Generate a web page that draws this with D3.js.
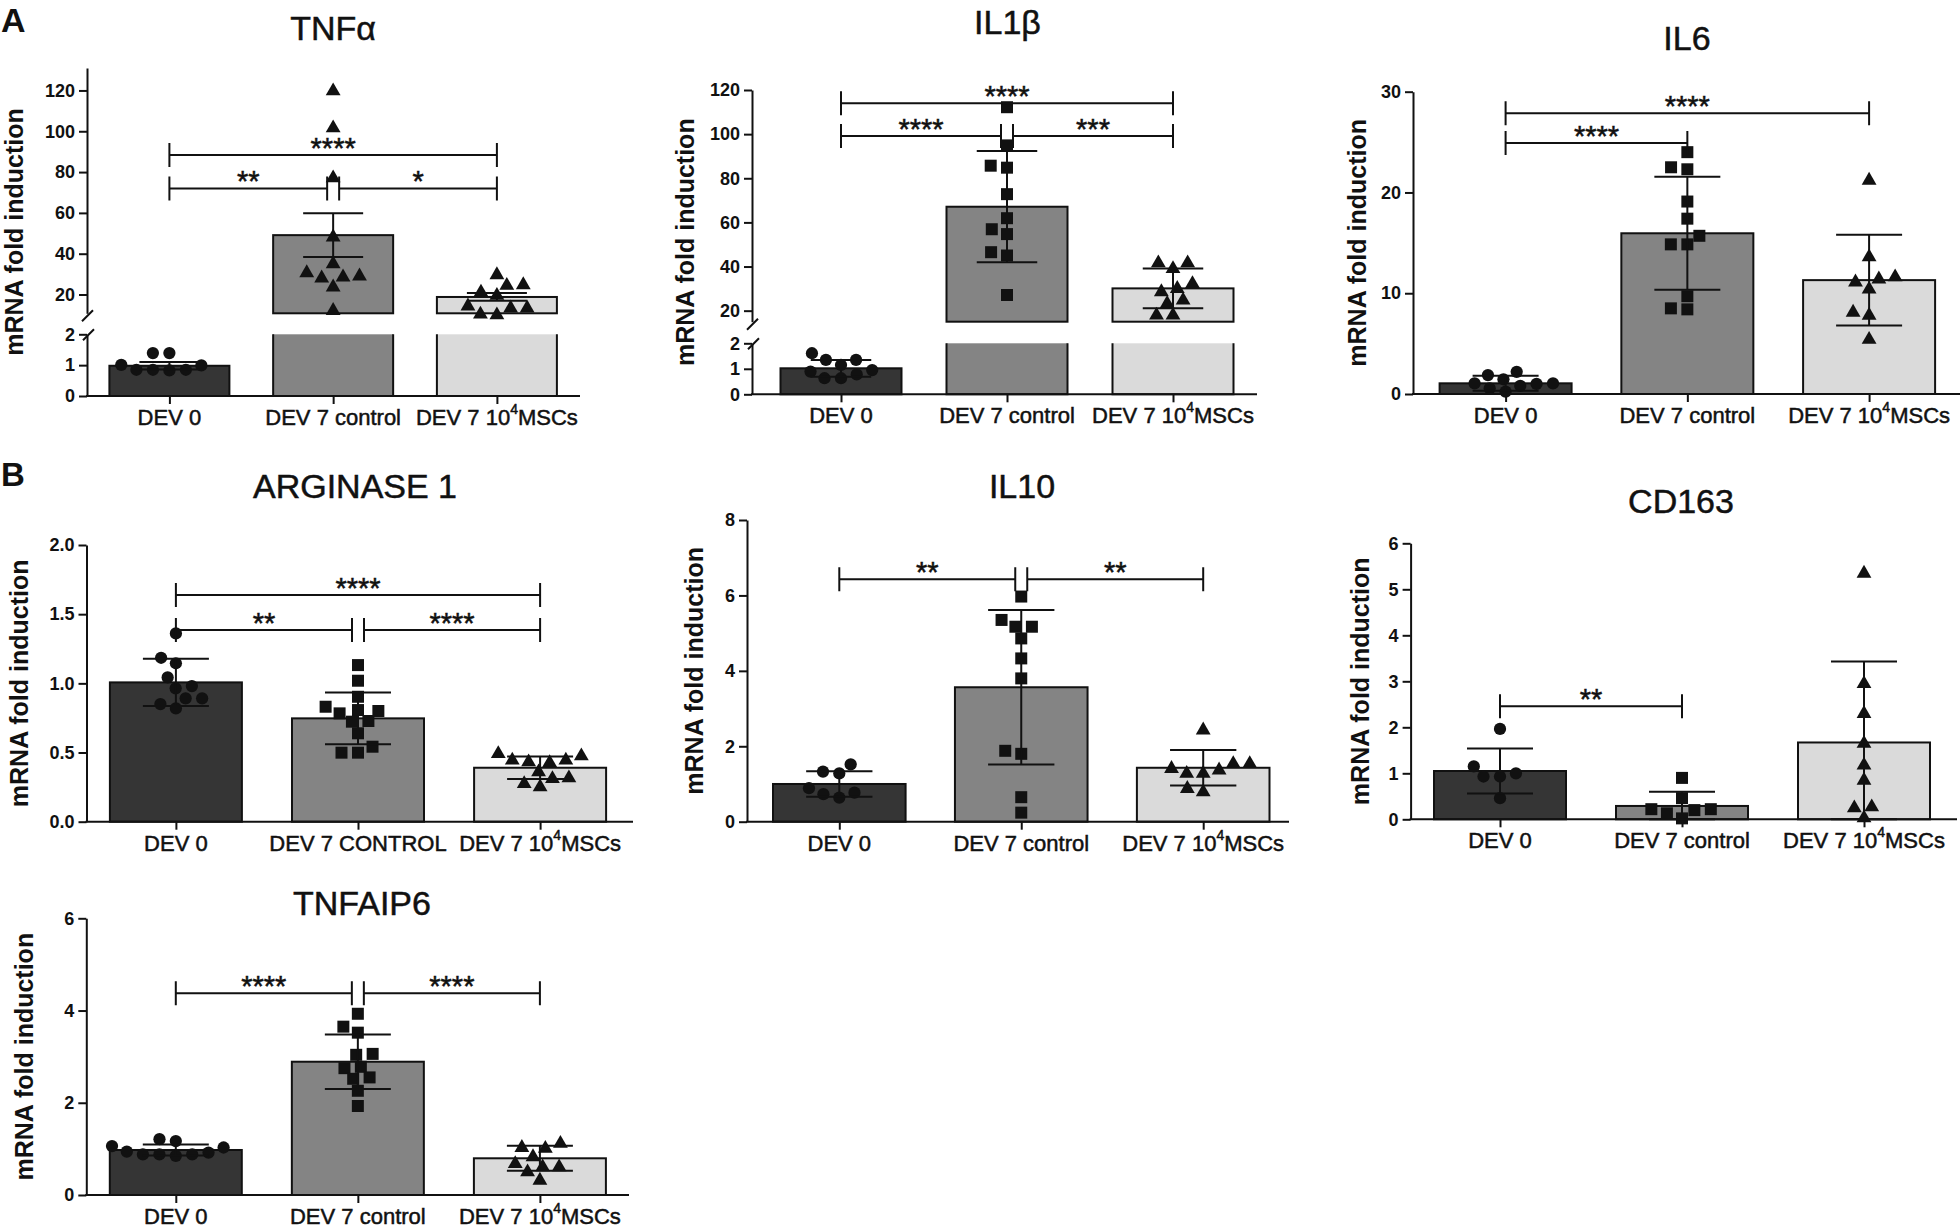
<!DOCTYPE html>
<html>
<head>
<meta charset="utf-8">
<script src="https://cdn.jsdelivr.net/npm/d3@7"></script>
<style>
  body { margin: 0; background: #fff; }
  svg { display: block; font-family: "Liberation Sans", Arial, sans-serif; }
</style>
</head>
<body>
<svg id="fig" width="1960" height="1228"></svg>
<script>
// group labels (⁴ is drawn as a superscript)
const groups = ["DEV 0", "DEV 7 control", "DEV 7 10⁴MSCs"];
const groupsCaps = ["DEV 0", "DEV 7 CONTROL", "DEV 7 10⁴MSCs"];

// TNFα
const tnfMean = [0.98, 49.1, 18.8];
const tnfErr = [0.12, 10.7, 1.9];
const tnfPts = [
  [0.99, 0.85, 1.39, 0.83, 0.85, 1.39, 0.85, 1.01],
  [120.7, 102.6, 78.1, 49.1, 36, 30, 29, 29.5, 31.6, 24.6, 13.1],
  [25.7, 30.6, 25.4, 22.1, 20.5, 15.3, 14.3, 10.9, 11.3, 14.3]
];
const tnfTicksLo = [0, 1, 2];
const tnfTicksHi = [20, 40, 60, 80, 100, 120];
const tnfSig = [[0, 2, 88.4, "****"], [0, 1, 72, "**"], [1, 2, 72, "*"]];

// IL1β
const il1Mean = [1.02, 67.1, 30.1];
const il1Err = [0.33, 25.2, 9.0];
const il1Pts = [
  [0.95, 0.78, 1.35, 0.63, 1.35, 0.63, 1.61, 0.89, 1.15],
  [112.2, 94.9, 84.8, 85.7, 72.8, 61.9, 56.9, 54.7, 46.5, 45, 27.1],
  [42.5, 39.9, 42.5, 30.9, 29.4, 33.1, 24.1, 25.6, 18.8, 18.8]
];
const il1TicksLo = [0, 1, 2];
const il1TicksHi = [20, 40, 60, 80, 100, 120];
const il1Sig = [[0, 2, 114, "****"], [0, 1, 99.2, "****"], [1, 2, 99.2, "***"]];

// IL6
const il6Mean = [1.06, 15.95, 11.3];
const il6Err = [0.74, 5.6, 4.5];
const il6Pts = [
  [1.46, 1.0, 0.8, 0.23, 2.2, 0.56, 1.06, 1.06, 1.88],
  [24.0, 22.3, 22.5, 19.1, 17.4, 15.7, 14.85, 14.85, 9.7, 8.4, 8.5],
  [21.4, 13.8, 11.6, 11.3, 11.8, 10.6, 8.3, 8.0, 5.6]
];
const il6Ticks = [0, 10, 20, 30];
const il6Sig = [[0, 2, 27.85, "****"], [0, 1, 24.9, "****"]];

// ARGINASE 1
const argMean = [1.007, 0.747, 0.39];
const argErr = [0.171, 0.187, 0.082];
const argPts = [
  [1.361, 1.145, 1.185, 0.98, 0.964, 1.043, 0.892, 0.892, 0.819, 0.85],
  [1.132, 1.019, 0.903, 0.831, 0.807, 0.783, 0.8, 0.723, 0.728, 0.639, 0.542, 0.499, 0.499],
  [0.506, 0.458, 0.446, 0.441, 0.458, 0.489, 0.374, 0.325, 0.33, 0.265, 0.289]
];
const argTicks = [0, 0.5, 1, 1.5, 2];
const argSig = [[0, 2, 1.638, "****"], [0, 1, 1.385, "**"], [1, 2, 1.385, "****"]];

// IL10
const il10Mean = [1.0, 3.565, 1.43];
const il10Err = [0.34, 2.05, 0.47];
const il10Pts = [
  [1.33, 1.28, 1.52, 0.77, 0.64, 0.73, 0.89],
  [5.97, 5.35, 5.17, 5.17, 4.86, 4.33, 3.8, 1.88, 1.8, 0.65, 0.24],
  [2.48, 1.59, 1.46, 1.33, 1.33, 1.42, 1.59, 0.84, 0.93]
];
const il10Ticks = [0, 2, 4, 6, 8];
const il10Sig = [[0, 1, 6.43, "**"], [1, 2, 6.43, "**"]];

// CD163
const cdMean = [1.05, 0.29, 1.67];
const cdErr = [0.49, 0.31, 1.76];
const cdPts = [
  [1.965, 1.15, 0.93, 0.93, 1.0, 0.46],
  [0.9, 0.46, 0.22, 0.2, 0.13, 0.22, 0.02],
  [5.39, 2.99, 2.34, 1.69, 1.22, 0.89, 0.31, 0.29, 0.07]
];
const cdTicks = [0, 1, 2, 3, 4, 5, 6];
const cdSig = [[0, 1, 2.46, "**"]];

// TNFAIP6
const tsgMean = [0.976, 2.89, 0.796];
const tsgErr = [0.12, 0.59, 0.27];
const tsgPts = [
  [1.17, 1.03, 0.92, 0.88, 0.85, 0.88, 0.88, 0.94, 1.06, 1.21],
  [3.93, 3.65, 3.52, 3.04, 3.06, 2.78, 2.75, 2.55, 2.52, 2.26, 1.93],
  [1.16, 1.07, 1.05, 0.87, 0.72, 0.65, 0.65, 0.54, 0.36]
];
const tsgTicks = [0, 2, 4, 6];
const tsgSig = [[0, 1, 4.375, "****"], [1, 2, 4.375, "****"]];

const fills = ["#353535", "#848484", "#dadada"];
const sym = {
  circle: [d3.symbolCircle, 118],
  square: [d3.symbolSquare, 144],
  triangle: [d3.symbolTriangle, 95]
};
const shapesStd = ["circle", "square", "triangle"];
const shapesTnf = ["circle", "triangle", "triangle"];

const panels = [
  {title: "TNFα", labels: groups, shapes: shapesTnf, mean: tnfMean, err: tnfErr, pts: tnfPts, sig: tnfSig,
   broken: {loMax: 2, loTop: 334.3, hiDomain: [10.8, 131], hiBot: 313.3, ticksLo: tnfTicksLo, ticksHi: tnfTicksHi},
   ax: 87, top: 68, bot: 396, right: 580, c0: 169.4, c2: 496.9, bw: 120, tx: 333, ty: 40, ylab: 23},
  {title: "IL1β", labels: groups, shapes: shapesStd, mean: il1Mean, err: il1Err, pts: il1Pts, sig: il1Sig,
   broken: {loMax: 2, loTop: 343.3, hiDomain: [15, 120], hiBot: 321.7, ticksLo: il1TicksLo, ticksHi: il1TicksHi},
   ax: 752, top: 90, bot: 394.3, right: 1257, c0: 841, c2: 1173, bw: 121, tx: 1007.5, ty: 34, ylab: 694},
  {title: "IL6", labels: groups, shapes: shapesStd, mean: il6Mean, err: il6Err, pts: il6Pts, sig: il6Sig, ticks: il6Ticks, fmt: "d",
   ax: 1413, top: 91.7, bot: 394, right: 1960, c0: 1505.6, c2: 1869.1, bw: 132, tx: 1687, ty: 50, ylab: 1366},
  {title: "ARGINASE 1", labels: groupsCaps, shapes: shapesStd, mean: argMean, err: argErr, pts: argPts, sig: argSig, ticks: argTicks, fmt: ".1f",
   ax: 86.5, top: 545, bot: 821.7, right: 633, c0: 175.9, c2: 540.1, bw: 132, tx: 355, ty: 498, ylab: 28},
  {title: "IL10", labels: groups, shapes: shapesStd, mean: il10Mean, err: il10Err, pts: il10Pts, sig: il10Sig, ticks: il10Ticks, fmt: "d",
   ax: 747, top: 520, bot: 821.7, right: 1289, c0: 839.3, c2: 1203.2, bw: 132.6, tx: 1022, ty: 498, ylab: 703},
  {title: "CD163", labels: groups, shapes: shapesStd, mean: cdMean, err: cdErr, pts: cdPts, sig: cdSig, ticks: cdTicks, fmt: "d",
   ax: 1410.6, top: 543.3, bot: 819.3, right: 1957, c0: 1500, c2: 1864, bw: 132, tx: 1681, ty: 513, ylab: 1369},
  {title: "TNFAIP6", labels: groups, shapes: shapesStd, mean: tsgMean, err: tsgErr, pts: tsgPts, sig: tsgSig, ticks: tsgTicks, fmt: "d",
   ax: 86.3, top: 918.3, bot: 1195, right: 629, c0: 175.8, c2: 539.9, bw: 132, tx: 362, ty: 915, ylab: 33}
];

const svg = d3.select("#fig");
const ink = "#111";

// beeswarm: lowest point first, each at the offset nearest the centre that keeps an elliptical gap
function swarm(ys, wx, hy) {
  const order = d3.range(ys.length).sort((a, b) => ys[b] - ys[a]);
  const placed = [];
  const xs = new Array(ys.length);
  order.forEach(i => {
    const y = ys[i];
    const iv = [];
    placed.forEach(p => {
      const dy = Math.abs(p.y - y) / hy;
      if (dy < 1) {
        const w = wx * Math.sqrt(1 - dy * dy);
        iv.push([p.x - w, p.x + w]);
      }
    });
    const cands = [0];
    iv.forEach(v => cands.push(v[0], v[1]));
    cands.sort((a, b) => Math.abs(a) - Math.abs(b));
    const x = cands.find(c => iv.every(v => c <= v[0] + 1e-6 || c >= v[1] - 1e-6));
    xs[i] = x;
    placed.push({x, y});
  });
  return xs;
}

function styleAxis(g) {
  g.selectAll(".domain").attr("stroke", ink).attr("stroke-width", 2);
  g.selectAll(".tick line").attr("stroke", ink).attr("stroke-width", 2);
  g.selectAll(".tick text").attr("fill", ink).attr("font-size", 18).attr("font-weight", "bold")
    .attr("font-family", "Liberation Sans, Arial, sans-serif");
}

// regular-weight text gets a hair of stroke so it reads like the scanned figure
function heavy(t) {
  return t.attr("fill", ink).attr("stroke", ink).attr("stroke-width", 0.5);
}

function drawPanel(p) {
  const g = svg.append("g");
  const x = d3.scalePoint().domain([0, 1, 2]).range([p.c0, p.c2]);
  let yv, yMin;

  if (p.broken) {
    const b = p.broken;
    const lo = d3.scaleLinear().domain([0, b.loMax]).range([p.bot, b.loTop]);
    const hi = d3.scaleLinear().domain(b.hiDomain).range([b.hiBot, p.top]);
    yv = v => v <= b.loMax ? lo(v) : hi(v);
    yMin = 0;
    g.append("g").attr("transform", `translate(${p.ax},0)`)
      .call(d3.axisLeft(lo).tickValues(b.ticksLo).tickFormat(d3.format("d")).tickSize(8).tickSizeOuter(0).tickPadding(4))
      .call(styleAxis);
    g.append("g").attr("transform", `translate(${p.ax},0)`)
      .call(d3.axisLeft(hi).tickValues(b.ticksHi).tickFormat(d3.format("d")).tickSize(8).tickSizeOuter(0).tickPadding(4))
      .call(styleAxis);
    // break marks
    g.append("path")
      .attr("d", `M${p.ax - 5},${b.hiBot + 8}L${p.ax + 6},${b.hiBot - 3}M${p.ax - 4},${b.loTop + 6}L${p.ax + 7},${b.loTop - 5}`)
      .attr("stroke", ink).attr("stroke-width", 2).attr("fill", "none");

    // bars split across the break
    p.mean.forEach((m, i) => {
      const x0 = x(i) - p.bw / 2, x1 = x(i) + p.bw / 2;
      if (m <= b.loMax) {
        g.append("rect").attr("x", x0).attr("y", lo(m)).attr("width", p.bw).attr("height", lo(0) - lo(m))
          .attr("fill", fills[i]).attr("stroke", ink).attr("stroke-width", 2);
      } else {
        g.append("rect").attr("x", x0).attr("y", lo(b.loMax)).attr("width", p.bw).attr("height", lo(0) - lo(b.loMax))
          .attr("fill", fills[i]);
        g.append("path").attr("d", `M${x0},${lo(b.loMax)}V${lo(0)}H${x1}V${lo(b.loMax)}`)
          .attr("fill", "none").attr("stroke", ink).attr("stroke-width", 2);
        g.append("rect").attr("x", x0).attr("y", hi(m)).attr("width", p.bw).attr("height", hi(b.hiDomain[0]) - hi(m))
          .attr("fill", fills[i]).attr("stroke", ink).attr("stroke-width", 2);
      }
    });
  } else {
    const y = d3.scaleLinear().domain([p.ticks[0], p.ticks[p.ticks.length - 1]]).range([p.bot, p.top]);
    yv = v => y(v);
    yMin = p.ticks[0];
    g.append("g").attr("transform", `translate(${p.ax},0)`)
      .call(d3.axisLeft(y).tickValues(p.ticks).tickFormat(d3.format(p.fmt)).tickSize(8).tickSizeOuter(0).tickPadding(4))
      .call(styleAxis);
    g.selectAll("rect.bar").data(p.mean).join("rect").attr("class", "bar")
      .attr("x", (d, i) => x(i) - p.bw / 2).attr("y", d => y(d))
      .attr("width", p.bw).attr("height", d => y(0) - y(d))
      .attr("fill", (d, i) => fills[i]).attr("stroke", ink).attr("stroke-width", 2);
  }

  // x axis
  g.append("line").attr("x1", p.ax - 1).attr("x2", p.right).attr("y1", p.bot).attr("y2", p.bot)
    .attr("stroke", ink).attr("stroke-width", 2);
  g.append("g").attr("transform", `translate(0,${p.bot})`)
    .call(d3.axisBottom(x).tickSize(8).tickFormat(""))
    .call(a => a.select(".domain").remove())
    .call(styleAxis);
  p.labels.forEach((lab, i) => {
    const t = heavy(g.append("text").attr("x", x(i)).attr("y", p.bot + 29).attr("text-anchor", "middle")
      .attr("font-size", 22));
    const parts = lab.split("⁴");
    t.append("tspan").text(parts[0]);
    if (parts.length > 1) {
      t.append("tspan").attr("font-size", 14).attr("dy", -11).text("4");
      t.append("tspan").attr("dy", 11).text(parts[1]);
    }
  });

  // points
  p.pts.forEach((vals, i) => {
    const ys = vals.map(yv);
    const xs = swarm(ys, 16.5, 12.5);
    const [type, size] = sym[p.shapes[i]];
    const shift = p.shapes[i] === "triangle" ? 2 : 0;
    g.append("g").selectAll("path").data(vals).join("path")
      .attr("d", d3.symbol(type, size))
      .attr("transform", (d, k) => `translate(${x(i) + xs[k]},${ys[k] + shift})`)
      .attr("fill", ink);
  });

  // error bars
  p.mean.forEach((m, i) => {
    const lo = Math.max(m - p.err[i], yMin), hi = m + p.err[i];
    const cx = x(i), cw = p.bw / 4;
    g.append("path")
      .attr("d", `M${cx},${yv(lo)}V${yv(hi)}M${cx - cw},${yv(hi)}H${cx + cw}M${cx - cw},${yv(lo)}H${cx + cw}`)
      .attr("stroke", ink).attr("stroke-width", 2).attr("fill", "none");
  });

  // significance brackets
  p.sig.forEach(([a, b, lvl, lab]) => {
    let x1 = x(a), x2 = x(b);
    if (p.sig.some(s => s[2] === lvl && s[0] === b)) x2 -= 6;
    if (p.sig.some(s => s[2] === lvl && s[1] === a)) x1 += 6;
    const yy = yv(lvl);
    g.append("path")
      .attr("d", `M${x1},${yy - 12}V${yy + 12}M${x1},${yy}H${x2}M${x2},${yy - 12}V${yy + 12}`)
      .attr("stroke", ink).attr("stroke-width", 2).attr("fill", "none");
    heavy(g.append("text").attr("x", (x1 + x2) / 2).attr("y", yy + 3).attr("text-anchor", "middle")
      .attr("font-size", 29)).text(lab);
  });

  // title and y label
  heavy(g.append("text").attr("x", p.tx).attr("y", p.ty).attr("text-anchor", "middle")
    .attr("font-size", 34)).text(p.title);
  g.append("text")
    .attr("transform", `translate(${p.ylab},${(p.top + p.bot) / 2}) rotate(-90)`)
    .attr("text-anchor", "middle").attr("font-size", 25).attr("font-weight", "bold").attr("fill", ink)
    .text("mRNA fold induction");
}

panels.forEach(drawPanel);

svg.append("text").attr("x", 1).attr("y", 32).attr("font-size", 34).attr("font-weight", "bold").attr("fill", ink).text("A");
svg.append("text").attr("x", 1).attr("y", 486).attr("font-size", 33).attr("font-weight", "bold").attr("fill", ink).text("B");
</script>
</body>
</html>
